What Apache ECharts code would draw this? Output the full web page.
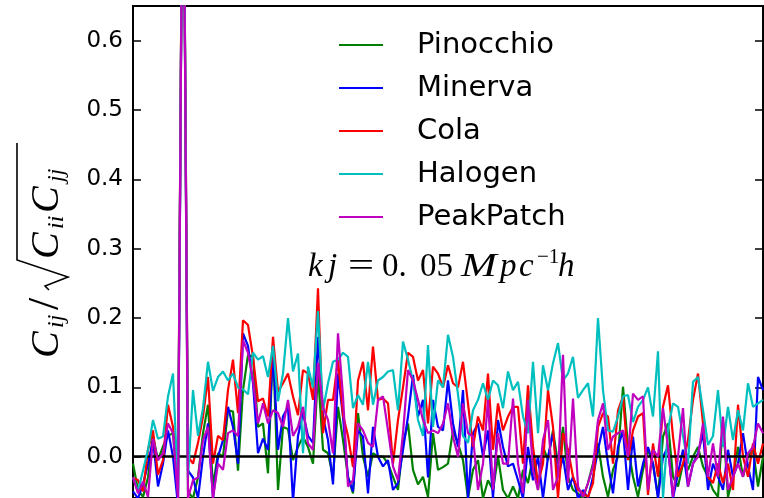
<!DOCTYPE html>
<html>
<head>
<meta charset="utf-8">
<title>Normalised covariance, kj = 0.05</title>
<script src="https://cdn.jsdelivr.net/npm/echarts@6/dist/echarts.min.js"></script>
<style>
  html, body { margin: 0; padding: 0; background: #fff; }
  #chart { width: 764px; height: 498px; }
</style>
</head>
<body>
<div id="chart"></div>
<script>
// k-bin index along the x axis (bin 10 is kj itself, where C_ij/sqrt(C_ii C_jj) = 1)
const kBins = Array.from({ length: 127 }, (_, i) => i);

const seriesNames = ['Pinocchio', 'Minerva', 'Cola', 'Halogen', 'PeakPatch'];
const seriesColors = ['#008000', '#0000ff', '#ff0000', '#00bfbf', '#bf00bf'];

const pinocchio = [
  -0.01, -0.048, -0.058, -0.03, 0.03, -0.005, 0.015, 0.03, 0.034, -0.05,
  1.0, -0.05, -0.06, -0.03, 0.034, 0.075, -0.043, 0.005, 0.0, 0.067,
  0.065, -0.02, 0.096, 0.147, 0.144, 0.043, 0.048, -0.024, 0.16, -0.048,
  0.043, 0.04, -0.005, 0.014, 0.029, 0.014, -0.01, 0.12, 0.01, 0.005,
  -0.029, 0.072, 0.024, -0.029, -0.053, 0.063, 0.0, -0.029, 0.005, 0.0,
  0.0, -0.01, -0.029, -0.048, 0.019, 0.048, -0.019, -0.04, -0.029, -0.058,
  0.034, -0.019, -0.015, -0.01, 0.038, 0.019, -0.005, -0.06, -0.019, -0.005,
  -0.06, -0.034, -0.048, 0.0, -0.048, -0.06, -0.043, -0.06, -0.019, -0.038,
  0.0, -0.048, 0.014, -0.005, 0.038, -0.01, 0.043, -0.029, -0.048, -0.053,
  -0.06, -0.038, -0.01, 0.019, -0.029, -0.058, -0.019, 0.0, 0.101, 0.014,
  -0.029, -0.058, -0.019, 0.01, -0.01, -0.058, 0.029, 0.048, -0.029, -0.043,
  -0.01, -0.019, 0.0, 0.014, -0.014, -0.029, -0.048, -0.058, 0.053, -0.058,
  -0.029, 0.014, -0.029, 0.0, 0.01, -0.043, 0.0
];

const minerva = [
  -0.05, -0.06, -0.04, -0.01, 0.024, -0.043, -0.01, 0.038, 0.0, -0.07,
  1.0, -0.02, -0.03, -0.06, 0.0, 0.048, -0.06, 0.0, 0.024, 0.072,
  0.043, -0.01, 0.178, 0.16, 0.106, 0.005, 0.026, 0.01, 0.154, 0.01,
  0.058, 0.072, -0.065, 0.03, 0.063, 0.03, 0.02, 0.173, 0.058, 0.024,
  -0.04, 0.12, 0.058, -0.03, -0.05, 0.038, 0.029, -0.053, 0.043, 0.0,
  -0.014, -0.005, -0.048, -0.038, 0.01, 0.058, 0.118, 0.058, 0.082, -0.03,
  0.082, 0.043, 0.038, 0.11, 0.048, 0.014, 0.096, -0.06, 0.034, 0.048,
  0.0, 0.038, -0.06, 0.053, 0.014, -0.014, -0.01, -0.034, -0.06, 0.014,
  -0.034, 0.0, -0.06, 0.0, 0.034, -0.029, 0.0, -0.048, -0.029, -0.06,
  -0.048, -0.06, -0.029, 0.01, 0.043, -0.01, -0.053, 0.014, 0.038, -0.048,
  0.029, -0.043, -0.01, 0.014, -0.01, -0.06, 0.0, 0.014, -0.06, -0.024,
  0.01, -0.043, -0.01, 0.005, 0.034, -0.048, -0.01, -0.029, -0.048, 0.01,
  -0.029, -0.01, 0.034, -0.014, -0.048, 0.115, 0.096
];

const cola = [
  -0.03, -0.034, -0.05, 0.01, 0.038, -0.026, -0.005, 0.075, 0.043, -0.03,
  1.0, 0.0, -0.01, 0.02, 0.058, 0.115, -0.01, 0.03, 0.024, 0.096,
  0.14, 0.063, 0.197, 0.19, 0.144, 0.08, 0.084, 0.058, 0.173, 0.094,
  0.106, 0.12, 0.087, 0.06, 0.125, 0.12, 0.082, 0.243, 0.034, 0.082,
  0.082, 0.14, 0.06, 0.03, -0.015, 0.11, 0.137, 0.067, 0.159, 0.082,
  0.084, 0.077, -0.01, 0.053, 0.1, 0.15, 0.144, 0.11, 0.125, 0.048,
  0.13, 0.12, 0.1, 0.132, 0.106, 0.1, 0.137, 0.077, 0.014, 0.058,
  0.038, 0.12, 0.01, 0.077, 0.038, 0.058, 0.072, 0.072, -0.01, 0.103,
  0.014, -0.038, -0.01, 0.096, 0.043, -0.06, 0.034, 0.01, -0.029, -0.048,
  -0.053, -0.058, -0.038, 0.043, 0.063, 0.058, -0.01, 0.067, 0.087, -0.005,
  0.038, 0.058, 0.063, -0.055, 0.019, -0.029, 0.072, 0.103, 0.029, -0.029,
  -0.01, 0.024, 0.082, 0.12, 0.048, -0.029, -0.038, -0.01, -0.038, -0.01,
  -0.048, 0.075, 0.0, -0.029, 0.019, -0.01, 0.019
];

const halogen = [
  -0.03, -0.05, -0.02, 0.01, 0.053, 0.026, 0.029, 0.087, 0.12, -0.05,
  1.0, -0.03, 0.096, 0.03, 0.07, 0.137, 0.095, 0.115, 0.123, 0.11,
  0.12, 0.1, 0.097, 0.09, 0.15, 0.14, 0.145, 0.115, 0.16, 0.08,
  0.12, 0.2, 0.123, 0.149, 0.005, 0.13, 0.1, 0.21, 0.067, 0.106,
  0.137, 0.14, 0.15, 0.144, 0.07, 0.089, 0.075, 0.137, 0.075, 0.11,
  0.115, 0.123, 0.125, 0.067, 0.166, 0.14, 0.11, 0.053, 0.03, 0.161,
  0.043, 0.11, 0.1, 0.176, 0.144, 0.09, 0.03, 0.02, 0.067, 0.082,
  0.106, 0.082, 0.11, 0.103, 0.07, 0.123, 0.096, 0.108, 0.058, 0.034,
  0.137, 0.034, 0.132, 0.096, 0.135, 0.164, 0.11, 0.12, 0.144, 0.085,
  0.096, 0.106, 0.058, 0.2, 0.096, 0.038, 0.036, 0.058, 0.087, 0.089,
  0.05, 0.072, 0.082, 0.1, 0.058, 0.152, -0.06, 0.04, 0.077, 0.072,
  0.03, -0.01, 0.108, 0.115, 0.067, 0.017, 0.03, 0.096, 0.014, 0.072,
  0.024, 0.067, 0.038, 0.106, 0.072, 0.077, 0.082
];

const peakPatch = [
  -0.03, -0.053, -0.036, -0.058, 0.026, -0.005, 0.005, 0.048, 0.034, -0.06,
  1.0, -0.06, -0.034, -0.03, 0.024, 0.043, -0.06, -0.01, -0.019, 0.034,
  0.038, 0.03, 0.168, 0.15, 0.11, 0.048, 0.077, 0.048, 0.067, 0.063,
  0.043, 0.082, 0.03, 0.043, 0.072, 0.019, 0.01, 0.135, 0.072, 0.053,
  0.005, 0.178, 0.087, -0.043, -0.034, 0.048, 0.038, 0.02, 0.014, 0.082,
  0.087, 0.038, -0.014, -0.034, 0.034, 0.125, 0.11, 0.082, 0.053, 0.034,
  0.038, 0.034, 0.048, 0.077, 0.029, 0.0, 0.077, 0.034, 0.029, -0.048,
  -0.01, 0.082, -0.048, 0.034, -0.01, -0.01, 0.084, -0.01, -0.053, 0.082,
  -0.019, -0.048, 0.024, 0.053, -0.048, -0.029, 0.147, -0.038, 0.084, -0.043,
  -0.058, -0.038, -0.014, 0.053, 0.077, 0.01, 0.029, 0.034, 0.038, 0.0,
  0.091, 0.082, 0.087, -0.048, 0.01, 0.0, 0.07, 0.014, -0.058, 0.0,
  0.07, -0.043, -0.01, 0.0, 0.048, -0.029, 0.019, -0.029, 0.058, -0.048,
  -0.029, -0.01, -0.029, 0.005, 0.014, 0.048, 0.034
];

const yTicks = [0.0, 0.1, 0.2, 0.3, 0.4, 0.5, 0.6];
const yMin = -0.0596;
const yMax = 0.6504;

const allValues = [pinocchio, minerva, cola, halogen, peakPatch];

const chart = echarts.init(document.getElementById('chart'), null, { renderer: 'canvas' });

const sansFont = 'DejaVu Sans';
const serifFont = '"Liberation Serif"';

const series = seriesNames.map((name, s) => ({
  name,
  type: 'line',
  data: kBins.map((k, i) => [k, allValues[s][i]]),
  symbol: 'none',
  showSymbol: false,
  clip: true,
  lineStyle: { color: seriesColors[s], width: 2.2 },
  itemStyle: { color: seriesColors[s] },
  z: 2 + s
}));

// zero reference line, drawn over the curves
series[series.length - 1].markLine = {
  silent: true,
  symbol: 'none',
  label: { show: false },
  lineStyle: { color: '#000', width: 2.5, type: 'solid' },
  data: [{ yAxis: 0 }]
};

// pieces of the math annotation  kj = 0.05 Mpc^{-1} h
const mathPieces = [
  { t: 'k', x: 308, it: true },
  { t: 'j', x: 328, it: true },
  { t: '=', x: 348, sx: 1.4 },
  { t: '0.', x: 382 },
  { t: '05', x: 420 },
  { t: 'M', x: 461, it: true, sx: 1.3 },
  { t: 'p', x: 500, it: true },
  { t: 'c', x: 519, it: true },
  { t: '\u22121', x: 537, sup: true },
  { t: 'h', x: 558, it: true }
];

const mathText = mathPieces.map(p => ({
  type: 'text', x: p.x, y: p.sup ? 257 : 267, z: 10,
  scaleX: p.sx || 1,
  style: {
    text: p.t,
    font: (p.it ? 'italic ' : '') + (p.sup ? '21px ' : '33px ') + serifFont,
    fill: '#000', verticalAlign: 'middle', textAlign: 'left'
  }
}));

const radical = [[72, -11], [76, -15], [85, 8], [102, -43], [219, -43]];

const option = {
  animation: false,
  backgroundColor: '#fff',
  grid: {
    left: 133, right: 1, top: 6, bottom: 0,
    show: true, borderColor: '#000', borderWidth: 2, backgroundColor: 'transparent'
  },
  xAxis: {
    type: 'value', min: 0, max: 126,
    axisLine: { show: false }, axisTick: { show: false },
    axisLabel: { show: false }, splitLine: { show: false }
  },
  yAxis: [
    {
      type: 'value', min: yMin, max: yMax,
      axisLine: { show: false },
      axisTick: { show: true, inside: true, length: 8, lineStyle: { color: '#000', width: 1.5 }, customValues: yTicks },
      axisLabel: {
        color: '#000', fontFamily: sansFont, fontSize: 23, margin: 10,
        customValues: yTicks,
        formatter: v => v.toFixed(1)
      },
      splitLine: { show: false }
    },
    {
      type: 'value', min: yMin, max: yMax, position: 'right',
      axisLine: { show: false },
      axisTick: { show: true, inside: true, length: 8, lineStyle: { color: '#000', width: 1.5 }, customValues: yTicks },
      axisLabel: { show: false },
      splitLine: { show: false }
    }
  ],
  legend: {
    orient: 'vertical', left: 339, top: 28, padding: 0,
    icon: 'rect', itemWidth: 44, itemHeight: 2, itemGap: 9,
    data: seriesNames,
    textStyle: { color: '#000', fontFamily: sansFont, fontSize: 29, lineHeight: 34, padding: [0, 0, 0, 29] }
  },
  graphic: mathText.concat([
    {
      type: 'group', x: 60, y: 362, rotation: Math.PI / 2, z: 10,
      children: [
        { type: 'text', x: 4, y: -13, style: { text: 'C', font: 'italic 40px ' + serifFont, fill: '#000', verticalAlign: 'middle' } },
        { type: 'text', x: 34, y: -3, style: { text: 'ij', font: 'italic 24px ' + serifFont, fill: '#000', verticalAlign: 'middle' } },
        { type: 'text', x: 52, y: -14, style: { text: '/', font: '44px ' + serifFont, fill: '#000', verticalAlign: 'middle' } },
        { type: 'polyline', shape: { points: radical }, style: { stroke: '#000', lineWidth: 1.6, fill: null } },
        { type: 'text', x: 103, y: -13, style: { text: 'C', font: 'italic 40px ' + serifFont, fill: '#000', verticalAlign: 'middle' } },
        { type: 'text', x: 133, y: -3, style: { text: 'ii', font: 'italic 24px ' + serifFont, fill: '#000', verticalAlign: 'middle' } },
        { type: 'text', x: 149, y: -13, style: { text: 'C', font: 'italic 40px ' + serifFont, fill: '#000', verticalAlign: 'middle' } },
        { type: 'text', x: 180, y: -3, style: { text: 'jj', font: 'italic 24px ' + serifFont, fill: '#000', verticalAlign: 'middle' } }
      ]
    }
  ]),
  series
};

chart.setOption(option);
</script>
</body>
</html>
